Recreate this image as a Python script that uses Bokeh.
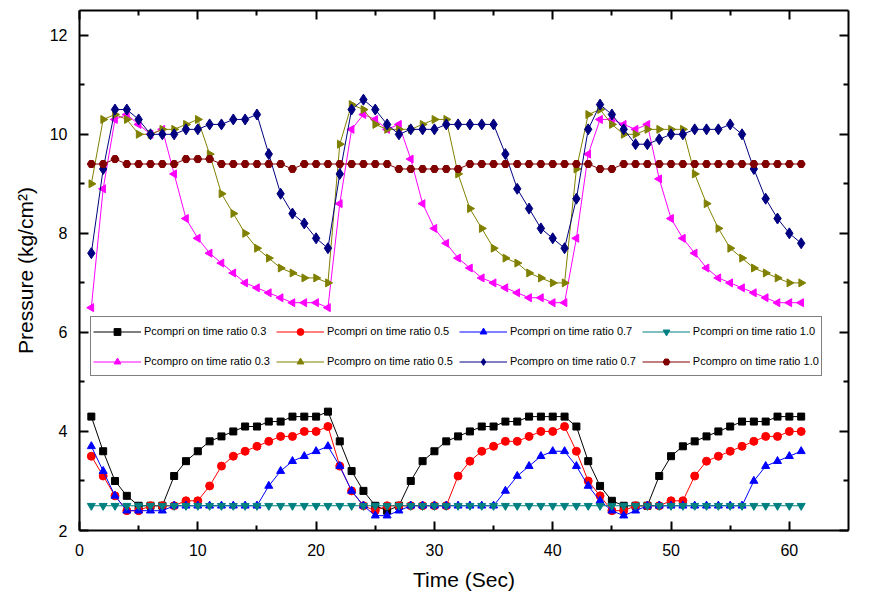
import math
from bokeh.plotting import figure
from bokeh.models import Range1d, LinearAxis, FixedTicker, Legend, LegendItem
from bokeh.embed import file_html
from bokeh.resources import INLINE

# ---------------- data ----------------
time_s = [1, 2, 3, 4, 5, 6, 7, 8, 9, 10, 11, 12, 13, 14, 15, 16, 17, 18, 19, 20,
          21, 22, 23, 24, 25, 26, 27, 28, 29, 30, 31, 32, 33, 34, 35, 36, 37, 38, 39, 40,
          41, 42, 43, 44, 45, 46, 47, 48, 49, 50, 51, 52, 53, 54, 55, 56, 57, 58, 59, 60, 61]

pcompri_03 = [4.3, 3.6, 3.0, 2.7, 2.5, 2.5, 2.5, 3.1, 3.4, 3.6, 3.8, 3.9, 4.0, 4.1, 4.1, 4.2, 4.2, 4.3, 4.3, 4.3,
              4.4, 3.8, 3.2, 2.8, 2.5, 2.4, 2.5, 3.0, 3.4, 3.6, 3.8, 3.9, 4.0, 4.1, 4.1, 4.2, 4.2, 4.3, 4.3, 4.3,
              4.3, 4.1, 3.4, 2.9, 2.6, 2.5, 2.5, 2.5, 3.1, 3.5, 3.7, 3.8, 3.9, 4.0, 4.1, 4.2, 4.2, 4.2, 4.3, 4.3, 4.3]
pcompri_05 = [3.5, 3.1, 2.7, 2.4, 2.4, 2.5, 2.5, 2.5, 2.6, 2.6, 2.9, 3.3, 3.5, 3.6, 3.7, 3.8, 3.9, 3.9, 4.0, 4.0,
              4.1, 3.3, 2.8, 2.5, 2.4, 2.5, 2.5, 2.5, 2.5, 2.5, 2.5, 3.1, 3.4, 3.6, 3.7, 3.8, 3.8, 3.9, 4.0, 4.0,
              4.1, 3.6, 3.0, 2.7, 2.4, 2.4, 2.5, 2.5, 2.5, 2.6, 2.6, 3.1, 3.4, 3.5, 3.6, 3.7, 3.8, 3.9, 3.9, 4.0, 4.0]
pcompri_07 = [3.7, 3.2, 2.7, 2.4, 2.4, 2.4, 2.4, 2.5, 2.5, 2.5, 2.5, 2.5, 2.5, 2.5, 2.5, 2.9, 3.2, 3.4, 3.5, 3.6,
              3.7, 3.3, 2.8, 2.5, 2.3, 2.3, 2.4, 2.5, 2.5, 2.5, 2.5, 2.5, 2.5, 2.5, 2.5, 2.8, 3.1, 3.3, 3.5, 3.6,
              3.6, 3.3, 2.9, 2.6, 2.4, 2.3, 2.4, 2.5, 2.5, 2.5, 2.5, 2.5, 2.5, 2.5, 2.5, 2.5, 3.0, 3.3, 3.4, 3.5, 3.6]
pcompri_10 = [2.5, 2.5, 2.5, 2.5, 2.5, 2.5, 2.5, 2.5, 2.5, 2.5, 2.5, 2.5, 2.5, 2.5, 2.5, 2.5, 2.5, 2.5, 2.5, 2.5,
              2.5, 2.5, 2.5, 2.5, 2.5, 2.5, 2.5, 2.5, 2.5, 2.5, 2.5, 2.5, 2.5, 2.5, 2.5, 2.5, 2.5, 2.5, 2.5, 2.5,
              2.5, 2.5, 2.5, 2.5, 2.5, 2.5, 2.5, 2.5, 2.5, 2.5, 2.5, 2.5, 2.5, 2.5, 2.5, 2.5, 2.5, 2.5, 2.5, 2.5, 2.5]
pcompro_03 = [6.5, 8.9, 10.3, 10.4, 10.2, 10.0, 10.1, 9.2, 8.3, 7.9, 7.6, 7.4, 7.2, 7.0, 6.9, 6.8, 6.7, 6.6, 6.6, 6.6,
              6.5, 8.6, 10.1, 10.4, 10.3, 10.1, 10.2, 9.5, 8.6, 8.1, 7.8, 7.5, 7.3, 7.1, 7.0, 6.9, 6.8, 6.7, 6.7, 6.6,
              6.6, 7.9, 9.6, 10.3, 10.3, 10.2, 10.1, 10.2, 9.1, 8.3, 7.9, 7.6, 7.3, 7.1, 7.0, 6.9, 6.8, 6.7, 6.6, 6.6, 6.6]
pcompro_05 = [9.0, 10.3, 10.4, 10.3, 10.0, 10.0, 10.1, 10.1, 10.2, 10.3, 9.6, 8.8, 8.4, 8.0, 7.7, 7.5, 7.3, 7.2, 7.1, 7.1,
              7.0, 9.8, 10.6, 10.5, 10.2, 10.1, 10.1, 10.1, 10.2, 10.3, 10.3, 9.2, 8.5, 8.1, 7.7, 7.5, 7.4, 7.2, 7.1, 7.0,
              7.0, 9.3, 10.4, 10.5, 10.2, 10.0, 10.0, 10.1, 10.1, 10.1, 10.1, 9.2, 8.6, 8.1, 7.7, 7.5, 7.3, 7.2, 7.1, 7.0, 7.0]
pcompro_07 = [7.6, 9.3, 10.5, 10.5, 10.3, 10.0, 10.0, 10.0, 10.1, 10.1, 10.2, 10.2, 10.3, 10.3, 10.4, 9.6, 8.8, 8.4, 8.2, 7.9,
              7.7, 9.2, 10.5, 10.7, 10.5, 10.2, 10.0, 10.1, 10.1, 10.1, 10.2, 10.2, 10.2, 10.2, 10.2, 9.6, 8.9, 8.5, 8.1, 7.9,
              7.7, 8.7, 10.1, 10.6, 10.4, 10.1, 9.8, 9.8, 9.9, 10.0, 10.0, 10.1, 10.1, 10.1, 10.2, 10.0, 9.3, 8.7, 8.3, 8.0, 7.8]
pcompro_10 = [9.4, 9.4, 9.5, 9.4, 9.4, 9.4, 9.4, 9.4, 9.5, 9.5, 9.5, 9.4, 9.4, 9.4, 9.4, 9.4, 9.4, 9.3, 9.4, 9.4,
              9.4, 9.4, 9.4, 9.4, 9.4, 9.4, 9.3, 9.3, 9.3, 9.3, 9.3, 9.3, 9.4, 9.4, 9.4, 9.4, 9.4, 9.4, 9.4, 9.4,
              9.4, 9.4, 9.4, 9.3, 9.3, 9.4, 9.4, 9.4, 9.4, 9.4, 9.4, 9.4, 9.4, 9.4, 9.4, 9.4, 9.4, 9.4, 9.4, 9.4, 9.4]

labels = ["Pcompri on time ratio 0.3", "Pcompri on time ratio 0.5",
          "Pcompri on time ratio 0.7", "Pcompri on time ratio 1.0",
          "Pcompro on time ratio 0.3", "Pcompro on time ratio 0.5",
          "Pcompro on time ratio 0.7", "Pcompro on time ratio 1.0"]

x_major = [0, 10, 20, 30, 40, 50, 60]
x_minor = [5, 15, 25, 35, 45, 55]
y_major = [2, 4, 6, 8, 10, 12]
y_minor = [3, 5, 7, 9, 11]

# ---------------- styling ----------------
series = [
    (pcompri_03, "#000000", "square", 0.0, 7),
    (pcompri_05, "#FF0000", "circle", 0.0, 8),
    (pcompri_07, "#0000FF", "triangle", 0.0, 8),
    (pcompri_10, "#008080", "inverted_triangle", 0.0, 8),
    (pcompro_03, "#FF00FF", "triangle", math.pi / 2, 8),
    (pcompro_05, "#808000", "triangle", -math.pi / 2, 8),
    (pcompro_07, "#000080", "diamond", 0.0, 11),
    (pcompro_10, "#800000", "hex", 0.0, 8),
]

FONT = "Liberation Sans"

p = figure(width=856, height=602, output_backend="svg", toolbar_location=None,
           x_range=Range1d(0, 65), y_range=Range1d(2, 12.5),
           x_axis_label="Time (Sec)", y_axis_label="Pressure (kg/cm\u00b2)",
           min_border_left=79, min_border_right=8, min_border_top=10, min_border_bottom=72)
p.grid.visible = False
p.outline_line_color = None
p.background_fill_color = "white"
p.border_fill_color = "white"

bottom_axis = p.below[0]
left_axis = p.left[0]
top_axis = LinearAxis()
right_axis = LinearAxis()
p.add_layout(top_axis, "above")
p.add_layout(right_axis, "right")

for ax in (bottom_axis, top_axis):
    ax.ticker = FixedTicker(ticks=x_major, minor_ticks=x_minor)
for ax in (left_axis, right_axis):
    ax.ticker = FixedTicker(ticks=y_major, minor_ticks=y_minor)

for ax in (bottom_axis, left_axis, top_axis, right_axis):
    ax.axis_line_color = "black"
    ax.axis_line_width = 2
    ax.major_tick_in = 9
    ax.major_tick_out = 0
    ax.minor_tick_in = 5
    ax.minor_tick_out = 0
    ax.major_tick_line_width = 2
    ax.minor_tick_line_width = 2
    ax.major_tick_line_color = "black"
    ax.minor_tick_line_color = "black"
    ax.major_label_text_font = FONT
    ax.major_label_text_font_size = "16px"
    ax.major_label_text_color = "black"
    ax.axis_label_text_font = FONT
    ax.axis_label_text_font_size = "21px"
    ax.axis_label_text_font_style = "normal"
    ax.axis_label_text_color = "black"

bottom_axis.major_label_standoff = 13
bottom_axis.axis_label_standoff = 9
left_axis.major_label_standoff = 12
left_axis.axis_label_standoff = 10

for ax in (top_axis, right_axis):
    ax.major_label_text_color = None
    ax.major_label_standoff = 0
    ax.axis_label = None

items = []
for (ys, color, marker, ang, size), lab in zip(series, labels):
    lr = p.line(time_s, ys, line_color=color, line_width=1)
    sr = p.scatter(time_s, ys, marker=marker, angle=ang, size=size,
                   fill_color=color, line_color=color)
    items.append(LegendItem(label=lab, renderers=[lr, sr]))

legend = Legend(items=items, location=(11, 154), orientation="horizontal", ncols=4,
                label_text_font=FONT, label_text_font_size="11px", label_text_color="black",
                glyph_width=48, glyph_height=17, label_height=24, label_standoff=3,
                spacing=6, padding=2, margin=0,
                border_line_color="black", border_line_width=1,
                background_fill_color="white", background_fill_alpha=1.0)
p.add_layout(legend, "center")

open("out.html", "w").write(file_html(p, INLINE))
